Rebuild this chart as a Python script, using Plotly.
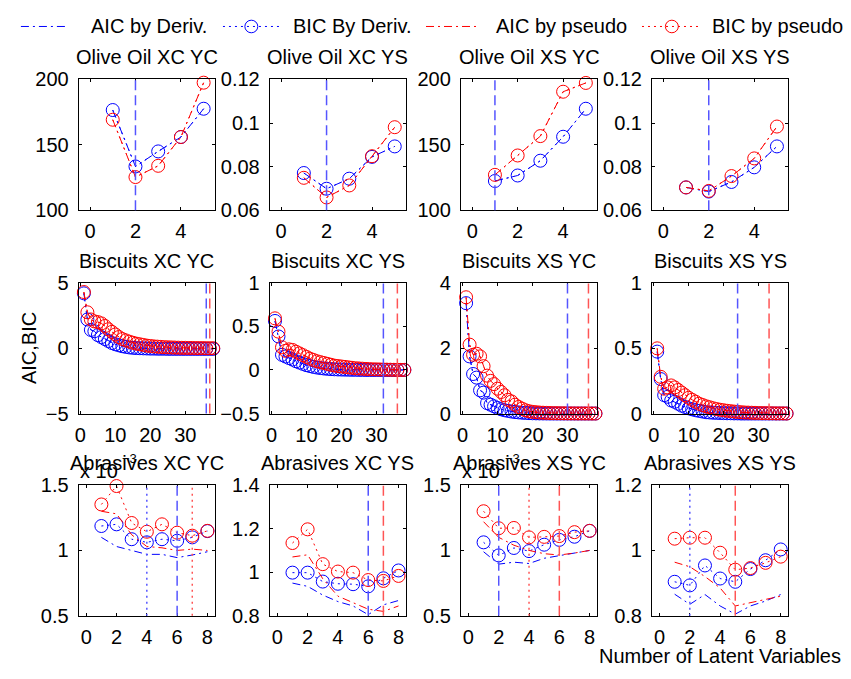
import plotly.graph_objects as go

W, H = 851, 679
FONT = "Liberation Sans, Arial, Helvetica, sans-serif"
FS = 20
BLUE = "rgb(0,0,255)"
RED = "rgb(255,0,0)"
MARK_BLUE = "rgb(85,85,255)"
MARK_RED = "rgb(255,85,85)"
DASHDOT = "8px,4px,2px,4px"
DOTTED = "2px,4px"
DASHED = "10px,5px"

# ---------------- numbers of latent variables ----------------
olive_lv = [1, 2, 3, 4, 5]
biscuit_lv = list(range(1, 39))
abrasive_lv = [1, 2, 3, 4, 5, 6, 7, 8]

# ---------------- Olive Oil ----------------
oo_xcyc_aic_deriv = [176.6, 133.5, 145.0, 156.0, 177.6]
oo_xcyc_bic_deriv = [176.6, 133.5, 145.0, 156.0, 177.6]
oo_xcyc_aic_pseudo = [169.2, 125.4, 134.0, 156.0, 197.5]
oo_xcyc_bic_pseudo = [169.2, 125.4, 134.0, 156.0, 197.5]

oo_xcys_aic_deriv = [0.0771, 0.0699, 0.0745, 0.0845, 0.0893]
oo_xcys_bic_deriv = [0.0771, 0.0699, 0.0745, 0.0845, 0.0893]
oo_xcys_aic_pseudo = [0.0749, 0.0659, 0.0714, 0.0848, 0.0981]
oo_xcys_bic_pseudo = [0.0749, 0.0659, 0.0714, 0.0848, 0.0981]

oo_xsyc_aic_deriv = [122.4, 126.6, 137.9, 156.2, 177.6]
oo_xsyc_bic_deriv = [122.4, 126.6, 137.9, 156.2, 177.6]
oo_xsyc_aic_pseudo = [127.1, 141.9, 156.7, 190.6, 197.3]
oo_xsyc_bic_pseudo = [127.1, 141.9, 156.7, 190.6, 197.3]

oo_xsys_aic_deriv = [0.0705, 0.0686, 0.0730, 0.0797, 0.0893]
oo_xsys_bic_deriv = [0.0705, 0.0686, 0.0730, 0.0797, 0.0893]
oo_xsys_aic_pseudo = [0.0705, 0.0689, 0.0757, 0.0838, 0.0984]
oo_xsys_bic_pseudo = [0.0705, 0.0689, 0.0757, 0.0838, 0.0984]

# ---------------- Biscuits ----------------
bc_xcyc_bic_deriv = [4.2, 2.2, 1.4, 1.3, 1.0, 0.85, 0.7, 0.55, 0.4, 0.3,
                     0.22, 0.15, 0.1, 0.06, 0.03, 0.01, 0.0, -0.01, -0.02, -0.03,
                     -0.03, -0.04, -0.04, -0.04, -0.05, -0.05, -0.05, -0.05, -0.05, -0.05,
                     -0.05, -0.05, -0.05, -0.05, -0.05, -0.05, -0.05, -0.05]
bc_xcyc_bic_pseudo = [4.3, 2.75, 2.2, 2.05, 2.0, 1.9, 1.7, 1.45, 1.25, 1.05,
                      0.85, 0.7, 0.6, 0.5, 0.42, 0.35, 0.3, 0.25, 0.2, 0.17,
                      0.14, 0.12, 0.1, 0.08, 0.07, 0.06, 0.05, 0.04, 0.03, 0.03,
                      0.02, 0.02, 0.01, 0.01, 0.01, 0.0, 0.0, 0.0]
bc_xcyc_aic_deriv = bc_xcyc_bic_deriv
bc_xcyc_aic_pseudo = bc_xcyc_bic_pseudo

bc_xcys_bic_deriv = [0.563, 0.385, 0.174, 0.155, 0.137, 0.12, 0.1, 0.085, 0.07, 0.055,
                     0.045, 0.035, 0.028, 0.022, 0.017, 0.013, 0.01, 0.008, 0.006, 0.005,
                     0.004, 0.003, 0.002, 0.002, 0.001, 0.001, 0.0, 0.0, 0.0, 0.0,
                     0.0, 0.0, 0.0, 0.0, 0.0, 0.0, 0.0, 0.0]
bc_xcys_bic_pseudo = [0.593, 0.44, 0.26, 0.22, 0.237, 0.23, 0.21, 0.19, 0.17, 0.15,
                      0.13, 0.115, 0.1, 0.09, 0.08, 0.07, 0.06, 0.05, 0.045, 0.04,
                      0.035, 0.03, 0.025, 0.02, 0.018, 0.015, 0.012, 0.01, 0.008, 0.007,
                      0.006, 0.005, 0.004, 0.003, 0.002, 0.002, 0.001, 0.001]
bc_xcys_aic_deriv = bc_xcys_bic_deriv
bc_xcys_aic_pseudo = bc_xcys_bic_pseudo

bc_xsyc_bic_deriv = [3.38, 1.75, 1.21, 1.1, 0.71, 0.64, 0.32, 0.27, 0.22, 0.17,
                     0.13, 0.1, 0.08, 0.06, 0.045, 0.035, 0.025, 0.018, 0.012, 0.008,
                     0.005, 0.003, 0.002, 0.001, 0.0, 0.0, 0.0, 0.0, 0.0, 0.0,
                     0.0, 0.0, 0.0, 0.0, 0.0, 0.0, 0.0, 0.0]
bc_xsyc_bic_pseudo = [3.56, 2.11, 1.8, 1.83, 1.75, 1.45, 1.16, 1.0, 0.9, 0.76,
                      0.66, 0.56, 0.42, 0.37, 0.27, 0.2, 0.15, 0.1, 0.07, 0.05,
                      0.04, 0.03, 0.025, 0.02, 0.015, 0.012, 0.01, 0.008, 0.006, 0.005,
                      0.004, 0.003, 0.002, 0.002, 0.001, 0.001, 0.0, 0.0]
bc_xsyc_aic_deriv = bc_xsyc_bic_deriv
bc_xsyc_aic_pseudo = bc_xsyc_bic_pseudo

bc_xsys_bic_deriv = [0.474, 0.264, 0.141, 0.128, 0.1, 0.09, 0.075, 0.06, 0.05, 0.04,
                     0.032, 0.025, 0.02, 0.015, 0.01, 0.008, 0.006, 0.005, 0.004, 0.003,
                     0.002, 0.002, 0.001, 0.001, 0.0, 0.0, 0.0, 0.0, 0.0, 0.0,
                     0.0, 0.0, 0.0, 0.0, 0.0, 0.0, 0.0, 0.0]
bc_xsys_bic_pseudo = [0.499, 0.281, 0.19, 0.2, 0.215, 0.2, 0.18, 0.16, 0.14, 0.12,
                      0.105, 0.09, 0.075, 0.065, 0.055, 0.048, 0.04, 0.034, 0.029, 0.025,
                      0.021, 0.018, 0.015, 0.012, 0.01, 0.008, 0.007, 0.006, 0.005, 0.004,
                      0.003, 0.003, 0.002, 0.002, 0.001, 0.001, 0.001, 0.0]
bc_xsys_aic_deriv = bc_xsys_bic_deriv
bc_xsys_aic_pseudo = bc_xsys_bic_pseudo

# ---------------- Abrasives ----------------
ab_xcyc_aic_deriv = [1.10e-3, 1.03e-3, 1.00e-3, 0.97e-3, 0.97e-3, 0.945e-3, 0.965e-3, 0.99e-3]
ab_xcyc_bic_deriv = [1.187e-3, 1.200e-3, 1.086e-3, 1.062e-3, 1.086e-3, 1.074e-3, 1.100e-3, 1.148e-3]
ab_xcyc_aic_pseudo = [1.30e-3, 1.28e-3, 1.12e-3, 1.03e-3, 1.02e-3, 1.00e-3, 1.01e-3, 1.0e-3]
ab_xcyc_bic_pseudo = [1.352e-3, 1.493e-3, 1.210e-3, 1.143e-3, 1.200e-3, 1.136e-3, 1.113e-3, 1.150e-3]

ab_xcys_aic_deriv = [0.95, 0.935, 0.895, 0.865, 0.845, 0.805, 0.85, 0.87]
ab_xcys_bic_deriv = [0.998, 0.998, 0.957, 0.947, 0.945, 0.935, 0.972, 1.008]
ab_xcys_aic_pseudo = [1.07, 1.08, 0.97, 0.89, 0.86, 0.83, 0.82, 0.845]
ab_xcys_bic_pseudo = [1.134, 1.197, 1.037, 1.003, 0.998, 0.964, 0.960, 0.983]

ab_xsyc_aic_deriv = [0.99e-3, 0.895e-3, 0.91e-3, 0.90e-3, 0.94e-3, 0.96e-3, 0.98e-3, 1.0e-3]
ab_xsyc_bic_deriv = [1.062e-3, 0.962e-3, 1.019e-3, 0.995e-3, 1.044e-3, 1.081e-3, 1.105e-3, 1.150e-3]
ab_xsyc_aic_pseudo = [1.22e-3, 1.10e-3, 1.04e-3, 1.0e-3, 0.975e-3, 0.965e-3, 0.98e-3, 1.0e-3]
ab_xsyc_bic_pseudo = [1.300e-3, 1.170e-3, 1.172e-3, 1.100e-3, 1.104e-3, 1.110e-3, 1.140e-3, 1.150e-3]

ab_xsys_aic_deriv = [0.866, 0.835, 0.865, 0.83, 0.805, 0.83, 0.845, 0.865]
ab_xsys_bic_deriv = [0.904, 0.893, 0.954, 0.914, 0.904, 0.943, 0.970, 1.003]
ab_xsys_aic_pseudo = [0.964, 0.95, 0.92, 0.885, 0.83, 0.84, 0.85, 0.86]
ab_xsys_bic_pseudo = [1.036, 1.039, 1.039, 0.993, 0.941, 0.946, 0.962, 0.981]

# marked model sizes: (method, criterion, number of latent variables), drawn in order
oo_xcyc_marks = [("deriv", "AIC", 2)]
oo_xcys_marks = [("deriv", "AIC", 2)]
oo_xsyc_marks = [("deriv", "AIC", 1)]
oo_xsys_marks = [("deriv", "AIC", 2)]
bc_xcyc_marks = [("deriv", "AIC", 36), ("pseudo", "AIC", 37)]
bc_xcys_marks = [("deriv", "AIC", 32), ("pseudo", "AIC", 36)]
bc_xsyc_marks = [("deriv", "AIC", 30), ("pseudo", "AIC", 36)]
bc_xsys_marks = [("deriv", "AIC", 24), ("pseudo", "AIC", 33)]
ab_xcyc_marks = [("pseudo", "BIC", 7), ("deriv", "BIC", 4), ("deriv", "AIC", 6)]
ab_xcys_marks = [("deriv", "AIC", 6), ("pseudo", "AIC", 7)]
ab_xsyc_marks = [("pseudo", "BIC", 4), ("pseudo", "AIC", 6), ("deriv", "AIC", 2)]
ab_xsys_marks = [("deriv", "BIC", 2), ("pseudo", "AIC", 5)]

panel_titles = [
    "Olive Oil XC YC", "Olive Oil XC YS", "Olive Oil XS YC", "Olive Oil XS YS",
    "Biscuits XC YC", "Biscuits XC YS", "Biscuits XS YC", "Biscuits XS YS",
    "Abrasives XC YC", "Abrasives XC YS", "Abrasives XS YC", "Abrasives XS YS",
]

# y axis ranges and ticks
y_ranges = [
    [100, 200], [0.06, 0.12], [100, 200], [0.06, 0.12],
    [-5, 5], [-0.5, 1], [0, 4], [0, 1],
    [0.5e-3, 1.5e-3], [0.8, 1.4], [0.5e-3, 1.5e-3], [0.8, 1.2],
]
y_tickvals = [
    [100, 150, 200], [0.06, 0.08, 0.1, 0.12], [100, 150, 200], [0.06, 0.08, 0.1, 0.12],
    [-5, 0, 5], [-0.5, 0, 0.5, 1], [0, 2, 4], [0, 0.5, 1],
    [0.5e-3, 1e-3, 1.5e-3], [0.8, 1.0, 1.2, 1.4], [0.5e-3, 1e-3, 1.5e-3], [0.8, 1.0, 1.2],
]
y_ticktext = [
    ["100", "150", "200"], ["0.06", "0.08", "0.1", "0.12"], ["100", "150", "200"], ["0.06", "0.08", "0.1", "0.12"],
    ["\u22125", "0", "5"], ["\u22120.5", "0", "0.5", "1"], ["0", "2", "4"], ["0", "0.5", "1"],
    ["0.5", "1", "1.5"], ["0.8", "1", "1.2", "1.4"], ["0.5", "1", "1.5"], ["0.8", "1", "1.2"],
]

panels = [
    (olive_lv, oo_xcyc_aic_deriv, oo_xcyc_bic_deriv, oo_xcyc_aic_pseudo, oo_xcyc_bic_pseudo, oo_xcyc_marks),
    (olive_lv, oo_xcys_aic_deriv, oo_xcys_bic_deriv, oo_xcys_aic_pseudo, oo_xcys_bic_pseudo, oo_xcys_marks),
    (olive_lv, oo_xsyc_aic_deriv, oo_xsyc_bic_deriv, oo_xsyc_aic_pseudo, oo_xsyc_bic_pseudo, oo_xsyc_marks),
    (olive_lv, oo_xsys_aic_deriv, oo_xsys_bic_deriv, oo_xsys_aic_pseudo, oo_xsys_bic_pseudo, oo_xsys_marks),
    (biscuit_lv, bc_xcyc_aic_deriv, bc_xcyc_bic_deriv, bc_xcyc_aic_pseudo, bc_xcyc_bic_pseudo, bc_xcyc_marks),
    (biscuit_lv, bc_xcys_aic_deriv, bc_xcys_bic_deriv, bc_xcys_aic_pseudo, bc_xcys_bic_pseudo, bc_xcys_marks),
    (biscuit_lv, bc_xsyc_aic_deriv, bc_xsyc_bic_deriv, bc_xsyc_aic_pseudo, bc_xsyc_bic_pseudo, bc_xsyc_marks),
    (biscuit_lv, bc_xsys_aic_deriv, bc_xsys_bic_deriv, bc_xsys_aic_pseudo, bc_xsys_bic_pseudo, bc_xsys_marks),
    (abrasive_lv, ab_xcyc_aic_deriv, ab_xcyc_bic_deriv, ab_xcyc_aic_pseudo, ab_xcyc_bic_pseudo, ab_xcyc_marks),
    (abrasive_lv, ab_xcys_aic_deriv, ab_xcys_bic_deriv, ab_xcys_aic_pseudo, ab_xcys_bic_pseudo, ab_xcys_marks),
    (abrasive_lv, ab_xsyc_aic_deriv, ab_xsyc_bic_deriv, ab_xsyc_aic_pseudo, ab_xsyc_bic_pseudo, ab_xsyc_marks),
    (abrasive_lv, ab_xsys_aic_deriv, ab_xsys_bic_deriv, ab_xsys_aic_pseudo, ab_xsys_bic_pseudo, ab_xsys_marks),
]

METHOD_COLOR = {"deriv": MARK_BLUE, "pseudo": MARK_RED}
CRITERION_DASH = {"AIC": DASHED, "BIC": DOTTED}

# pixel frame of each subplot
col_px = [(75, 212), (267, 404), (459, 596), (651, 788)]
row_px = [(70.7, 206), (281, 416), (490, 625)]


def fx(p):
    return p / W


def fy(p):
    return 1 - p / H


def text_note(text, x, y, xanchor="center", size=FS, angle=0):
    return dict(text=text, x=fx(x), y=fy(y), xref="paper", yref="paper",
                xanchor=xanchor, yanchor="middle", showarrow=False, textangle=angle,
                font=dict(family=FONT, size=size, color="black"))


fig = go.Figure()
shapes = []
annotations = []
layout_axes = {}

# exponent labels of the x10^-3 axes (titles are drawn over them)
for c in (0, 2):
    annotations.append(text_note("x 10", col_px[c][0] - 1, 475, xanchor="left"))
    annotations.append(text_note("\u22123", col_px[c][0] + 42, 462, xanchor="left", size=13))

for i, (lv, aic_d, bic_d, aic_p, bic_p, marks) in enumerate(panels):
    r, c = divmod(i, 4)
    k = i + 1
    xa = "x" if k == 1 else f"x{k}"
    ya = "y" if k == 1 else f"y{k}"
    n = len(lv)

    common = dict(
        showline=True, linecolor="black", linewidth=1, mirror="allticks",
        ticks="inside", ticklen=3, tickcolor="black", tickwidth=1,
        showgrid=False, zeroline=False, fixedrange=True,
        tickfont=dict(family=FONT, size=FS, color="black"),
    )
    if n <= 5:
        xt = [0, 2, 4]
    elif n <= 8:
        xt = [0, 2, 4, 6, 8]
    else:
        xt = [0, 10, 20, 30]
    layout_axes[("xaxis" if k == 1 else f"xaxis{k}")] = dict(
        common, domain=[fx(col_px[c][0]), fx(col_px[c][1])], anchor=ya,
        range=[-0.5, n + 0.5], tickvals=xt, ticktext=[str(v) for v in xt],
        ticklabelstandoff=3,
    )
    layout_axes[("yaxis" if k == 1 else f"yaxis{k}")] = dict(
        common, domain=[fy(row_px[r][1]), fy(row_px[r][0])], anchor=xa,
        range=y_ranges[i], tickvals=y_tickvals[i], ticktext=y_ticktext[i],
        ticklabelstandoff=5,
    )

    # criterion curves
    fig.add_trace(go.Scatter(x=lv, y=aic_d, xaxis=xa, yaxis=ya, mode="lines",
                             line=dict(color=BLUE, width=1, dash=DASHDOT), showlegend=False))
    fig.add_trace(go.Scatter(x=lv, y=bic_d, xaxis=xa, yaxis=ya, mode="lines+markers",
                             line=dict(color=BLUE, width=1, dash=DOTTED), cliponaxis=False,
                             marker=dict(symbol="circle-open", size=13, color=BLUE, line=dict(width=1)),
                             showlegend=False))
    fig.add_trace(go.Scatter(x=lv, y=aic_p, xaxis=xa, yaxis=ya, mode="lines",
                             line=dict(color=RED, width=1, dash=DASHDOT), showlegend=False))
    fig.add_trace(go.Scatter(x=lv, y=bic_p, xaxis=xa, yaxis=ya, mode="lines+markers",
                             line=dict(color=RED, width=1, dash=DOTTED), cliponaxis=False,
                             marker=dict(symbol="circle-open", size=13, color=RED, line=dict(width=1)),
                             showlegend=False))

    # selected model sizes: dashed for AIC, dotted for BIC
    for method, criterion, xv in marks:
        shapes.append(dict(type="line", xref=xa, yref=f"{ya} domain", x0=xv, x1=xv, y0=0, y1=1,
                           line=dict(color=METHOD_COLOR[method], width=1.5, dash=CRITERION_DASH[criterion]),
                           layer="above"))

    # panel title
    annotations.append(text_note(panel_titles[i], (col_px[c][0] + col_px[c][1]) / 2, row_px[r][0] - 23))

# axis labels
annotations.append(text_note("AIC,BIC", 25, (row_px[1][0] + row_px[1][1]) / 2, angle=-90))
annotations.append(text_note("Number of Latent Variables", (col_px[3][0] + col_px[3][1]) / 2, 667))

# legend row
legend_items = [
    ("AIC by Deriv.", BLUE, DASHDOT, False, 17, 65, 85),
    ("BIC By Deriv.", BLUE, DOTTED, True, 220, 277, 288),
    ("AIC by pseudo", RED, DASHDOT, False, 424, 478, 492),
    ("BIC by pseudo", RED, DOTTED, True, 641, 701, 709),
]
LY = 16
for label, col, dash, circ, s0, s1, tx in legend_items:
    shapes.append(dict(type="line", xref="paper", yref="paper", x0=fx(s0), x1=fx(s1), y0=fy(LY), y1=fy(LY),
                       line=dict(color=col, width=1, dash=dash)))
    if circ:
        cx = (s0 + s1) / 2
        shapes.append(dict(type="circle", xref="paper", yref="paper",
                           x0=fx(cx - 6.5), x1=fx(cx + 6.5), y0=fy(LY + 6.5), y1=fy(LY - 6.5),
                           line=dict(color=col, width=1), fillcolor="rgba(0,0,0,0)"))
    annotations.append(text_note(label, tx, LY, xanchor="left"))

fig.update_layout(
    width=W, height=H,
    margin=dict(l=0, r=0, t=0, b=0),
    paper_bgcolor="white", plot_bgcolor="white",
    showlegend=False,
    shapes=shapes, annotations=annotations,
    **layout_axes,
)

fig.write_html("out.html")
